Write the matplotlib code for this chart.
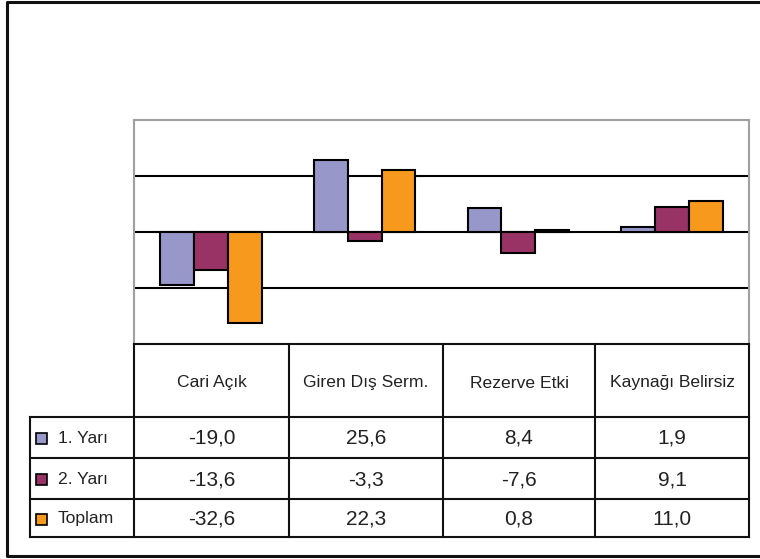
import matplotlib
matplotlib.use('Agg')
import matplotlib.pyplot as plt
from matplotlib.patches import Rectangle
import numpy as np

# data
categories = ['Cari Açık', 'Giren Dış Serm.', 'Rezerve Etki', 'Kaynağı Belirsiz']
series = ['1. Yarı', '2. Yarı', 'Toplam']
yari1 = [-19.0, 25.6, 8.4, 1.9]
yari2 = [-13.6, -3.3, -7.6, 9.1]
toplam = [-32.6, 22.3, 0.8, 11.0]
colors = ['#9797c9', '#993366', '#f7991c']

plt.rcParams['font.family'] = ['Liberation Sans', 'DejaVu Sans']

W, H = 760, 559
fig = plt.figure(figsize=(7.6, 5.59), dpi=100)


def box(x0, y0, x1, y1):
    # pixel box -> figure fraction
    return [x0 / W, 1 - y1 / H, (x1 - x0) / W, (y1 - y0) / H]


# bar chart part
ax = fig.add_axes(box(134, 120, 749, 344))
x = np.arange(len(categories)) + 0.5
w = 0.22
for i, vals in enumerate([yari1, yari2, toplam]):
    ax.bar(x + (i - 1) * w, vals, w, color=colors[i], edgecolor='black',
           linewidth=1.5, zorder=3)
ax.set_xlim(0, len(categories))
ax.set_ylim(-40, 40)
ax.set_yticks([-20, 0, 20])
ax.set_axisbelow(True)
ax.grid(axis='y', color='black', lw=1.5)
ax.tick_params(left=False, bottom=False, labelleft=False, labelbottom=False)
for s in ax.spines.values():
    s.set_color('#a0a0a0')
    s.set_linewidth(1.5)
ax.spines['bottom'].set_visible(False)

# overlay in pixel coords for the data table and frame
ov = fig.add_axes([0, 0, 1, 1], zorder=5)
ov.set_xlim(0, W)
ov.set_ylim(H, 0)
ov.axis('off')

# outer frame (right edge falls outside the picture)
ov.plot([770, 7, 7, 770], [1.5, 1.5, 556, 556], color='#111111', lw=2.2,
        solid_capstyle='butt')

col_x = [134, 289, 443, 595, 749]
row_y = [344, 417, 458, 499, 537]
lc = '#111111'
ov.plot([134, 749], [344, 344], color=lc, lw=1.5)
for yy in row_y[1:]:
    ov.plot([30, 749], [yy, yy], color=lc, lw=1.5)
for xx in col_x:
    ov.plot([xx, xx], [344, 537], color=lc, lw=1.5)
ov.plot([30, 30], [417, 537], color=lc, lw=1.5)

# header row
for j, cat in enumerate(categories):
    cx = (col_x[j] + col_x[j + 1]) / 2
    ov.text(cx, 383, cat, ha='center', va='center', fontsize=12.6,
            color='#222222')

# data rows
for r, (name, vals) in enumerate(zip(series, [yari1, yari2, toplam])):
    cy = (row_y[r + 1] + row_y[r + 2]) / 2 + 1
    ov.add_patch(Rectangle((36, cy - 5.5), 11, 11, facecolor=colors[r],
                           edgecolor='black', lw=1.2))
    ov.text(58, cy, name, ha='left', va='center', fontsize=12.6,
            color='#222222')
    for j, v in enumerate(vals):
        cx = (col_x[j] + col_x[j + 1]) / 2
        ov.text(cx, cy, f'{v:.1f}'.replace('.', ','), ha='center', va='center',
                fontsize=15, color='#222222')

fig.savefig('out.png', dpi=100)
